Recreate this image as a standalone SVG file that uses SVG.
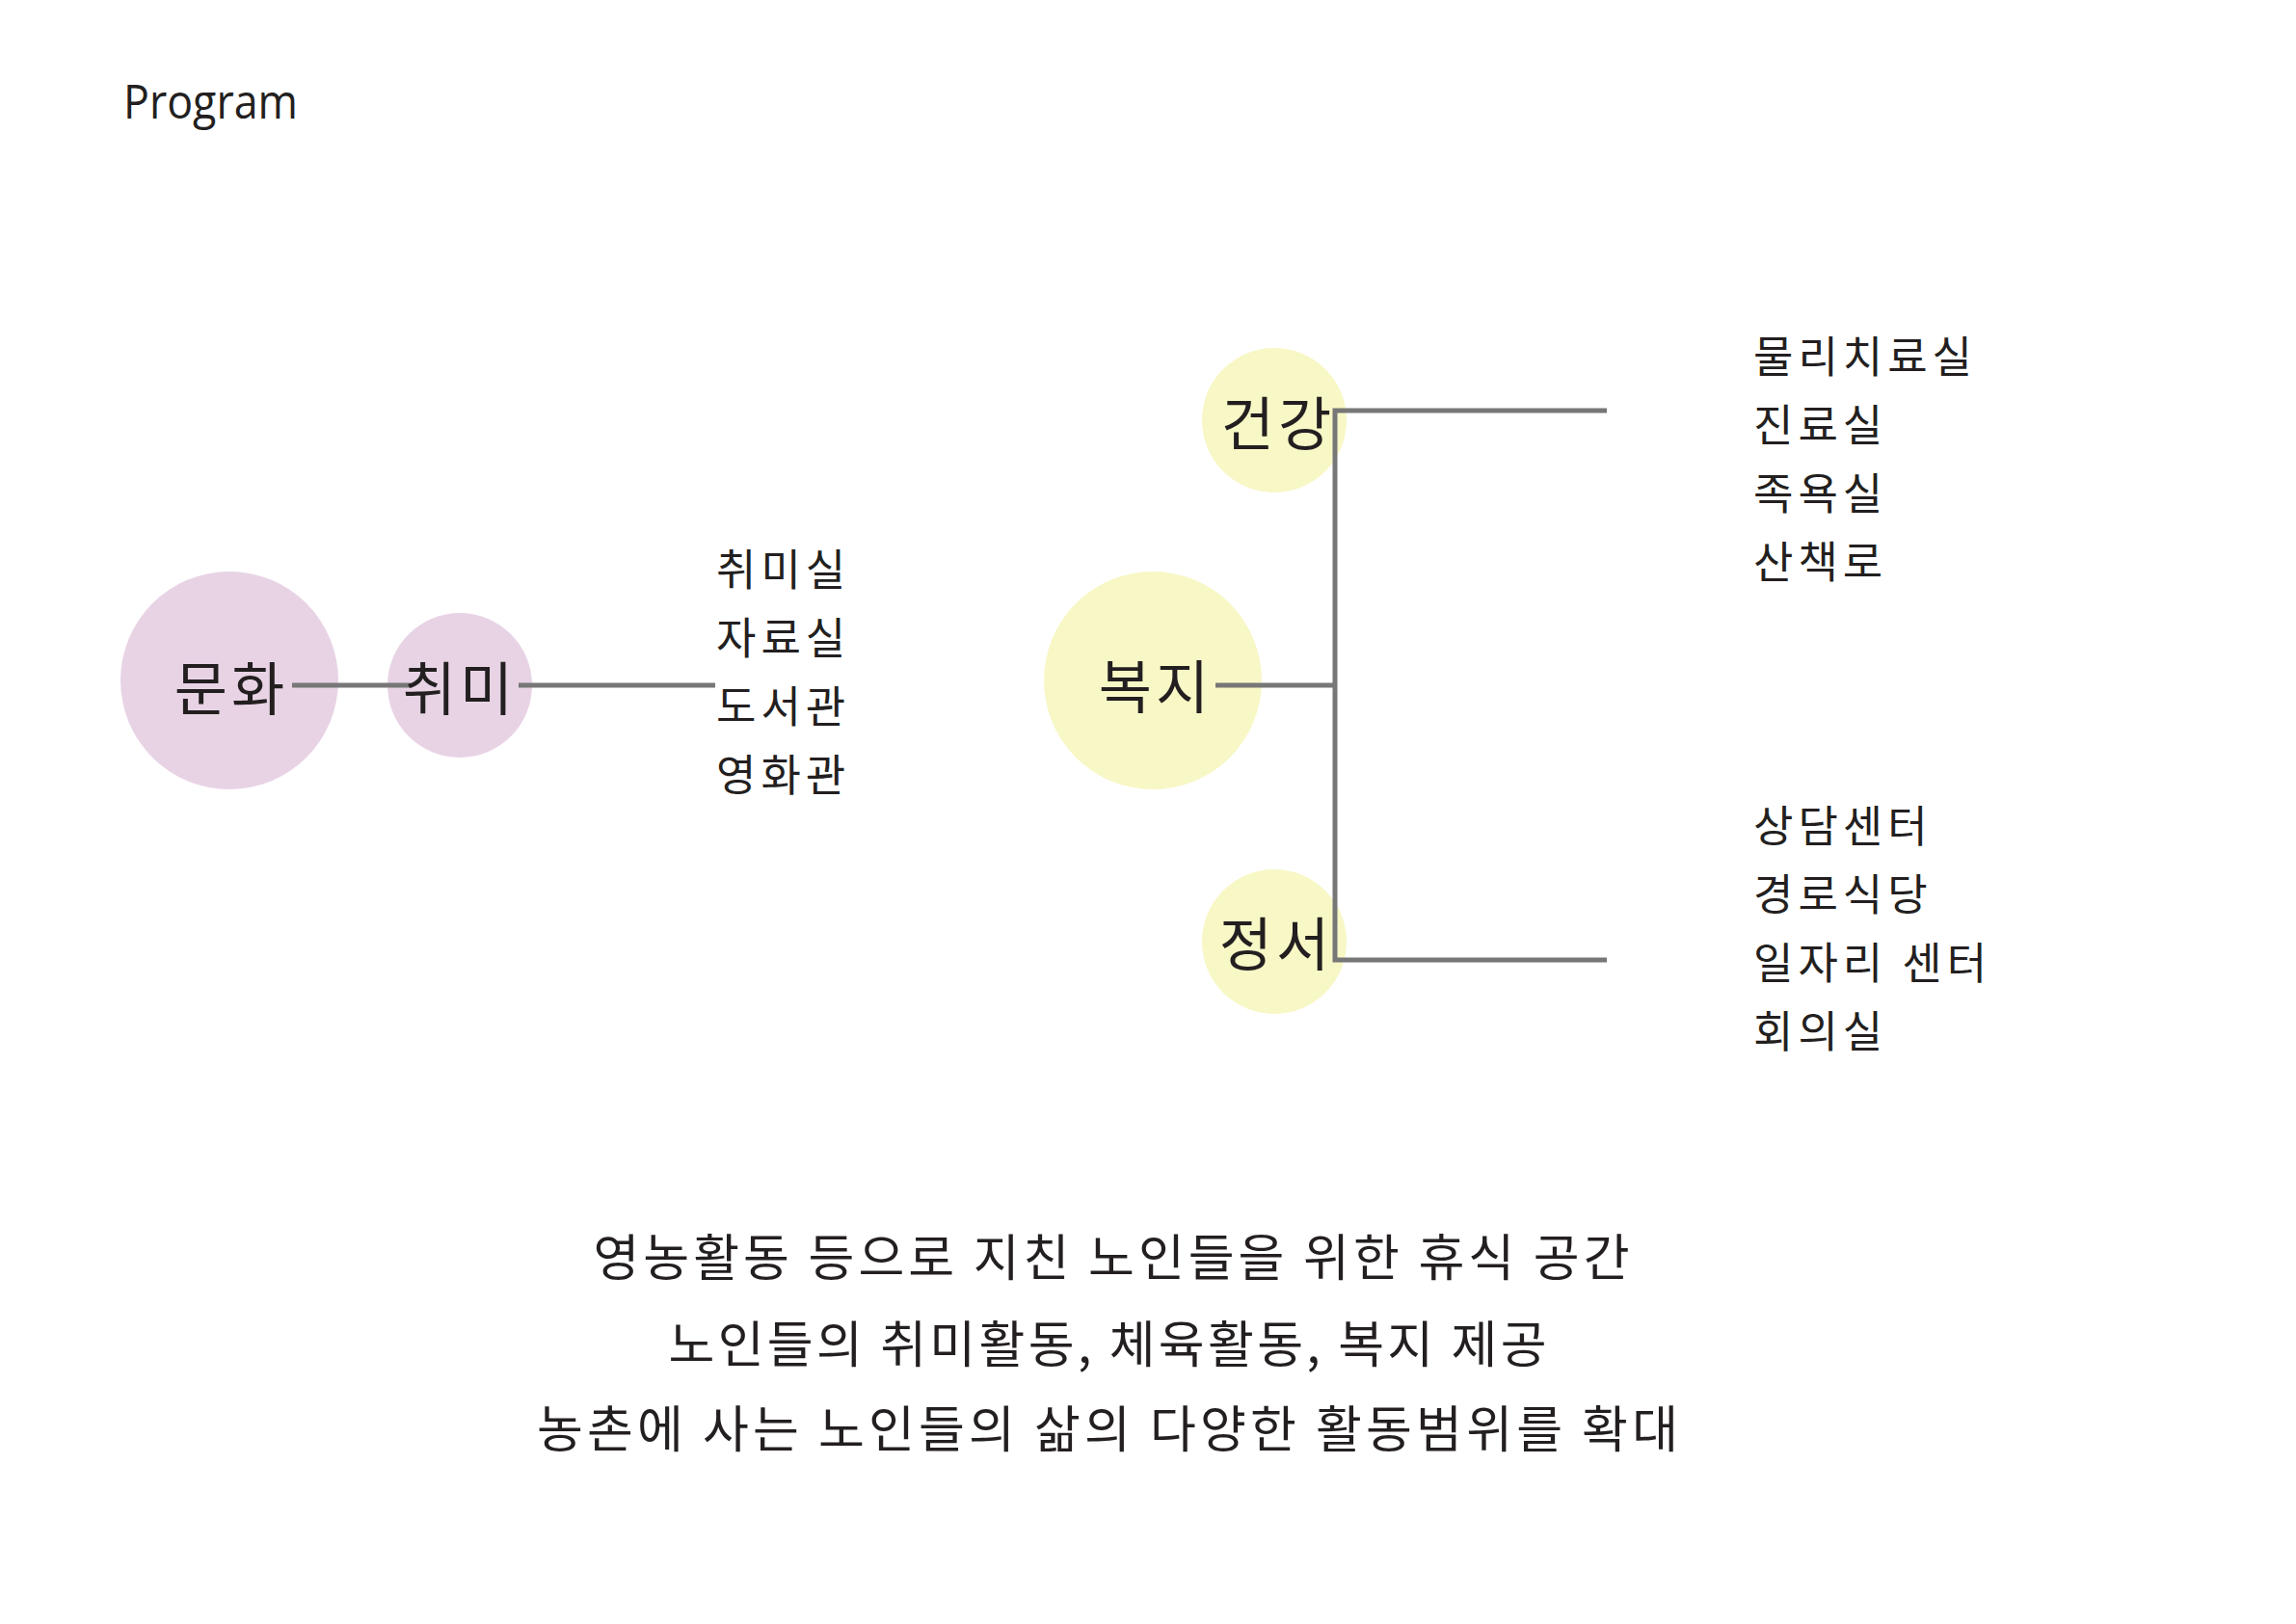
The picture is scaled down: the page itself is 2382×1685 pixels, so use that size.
<svg xmlns="http://www.w3.org/2000/svg" width="2382" height="1685" viewBox="0 0 2382 1685">
<style>
.bg{fill:#ffffff}
.pink{fill:#e8d3e5}
.yel{fill:#f8f7c6}
.kr{font-family:"Noto Sans CJK KR","Noto Sans",sans-serif;fill:#231f20}
.lbl{font-size:60px;text-anchor:middle;letter-spacing:4px}
.item{font-size:45px;letter-spacing:5px}
.desc{font-size:52px;text-anchor:middle}
.title{font-family:"Open Sans","Noto Sans",sans-serif;font-size:49px;fill:#231f20}
.conn{stroke:#777777;stroke-width:5;fill:none}
</style>
<rect class="bg" x="0" y="0" width="2382" height="1685"/>
<text class="title" x="128" y="123" textLength="181" lengthAdjust="spacingAndGlyphs">Program</text>

<g id="node-munhwa"><circle class="pink" cx="238" cy="706" r="113"/></g>
<g id="node-chwimi"><circle class="pink" cx="477" cy="711" r="75"/></g>
<g id="node-geongang"><circle class="yel" cx="1322" cy="436" r="75"/></g>
<g id="node-bokji"><circle class="yel" cx="1196" cy="706" r="113"/></g>
<g id="node-jeongseo"><circle class="yel" cx="1322" cy="977" r="75"/></g>

<g id="connectors">
<line class="conn" x1="303" y1="711" x2="426" y2="711"/>
<line class="conn" x1="538" y1="711" x2="742" y2="711"/>
<line class="conn" x1="1261" y1="711" x2="1385" y2="711"/>
<polyline class="conn" points="1667,426 1385,426 1385,996 1667,996"/>
</g>

<g id="labels">
<text class="kr lbl" x="240" y="737">문화</text>
<text class="kr lbl" x="477" y="737">취미</text>
<text class="kr lbl" x="1326" y="462">건강</text>
<text class="kr lbl" x="1199" y="735">복지</text>
<text class="kr lbl" x="1324" y="1002">정서</text>
</g>

<g id="list-chwimi" class="kr item">
<text x="743" y="608">취미실</text>
<text x="743" y="679">자료실</text>
<text x="743" y="750">도서관</text>
<text x="743" y="821">영화관</text>
</g>

<g id="list-geongang" class="kr item">
<text x="1819" y="387">물리치료실</text>
<text x="1819" y="458">진료실</text>
<text x="1819" y="529">족욕실</text>
<text x="1819" y="600">산책로</text>
</g>

<g id="list-jeongseo" class="kr item">
<text x="1819" y="874">상담센터</text>
<text x="1819" y="945">경로식당</text>
<text x="1819" y="1016">일자리 센터</text>
<text x="1819" y="1087">회의실</text>
</g>

<g id="description" class="kr desc">
<text x="1153" y="1324" textLength="1075" lengthAdjust="spacing">영농활동 등으로 지친 노인들을 위한 휴식 공간</text>
<text x="1149" y="1414" textLength="911" lengthAdjust="spacing">노인들의 취미활동, 체육활동, 복지 제공</text>
<text x="1149" y="1502" textLength="1184" lengthAdjust="spacing">농촌에 사는 노인들의 삶의 다양한 활동범위를 확대</text>
</g>
</svg>
